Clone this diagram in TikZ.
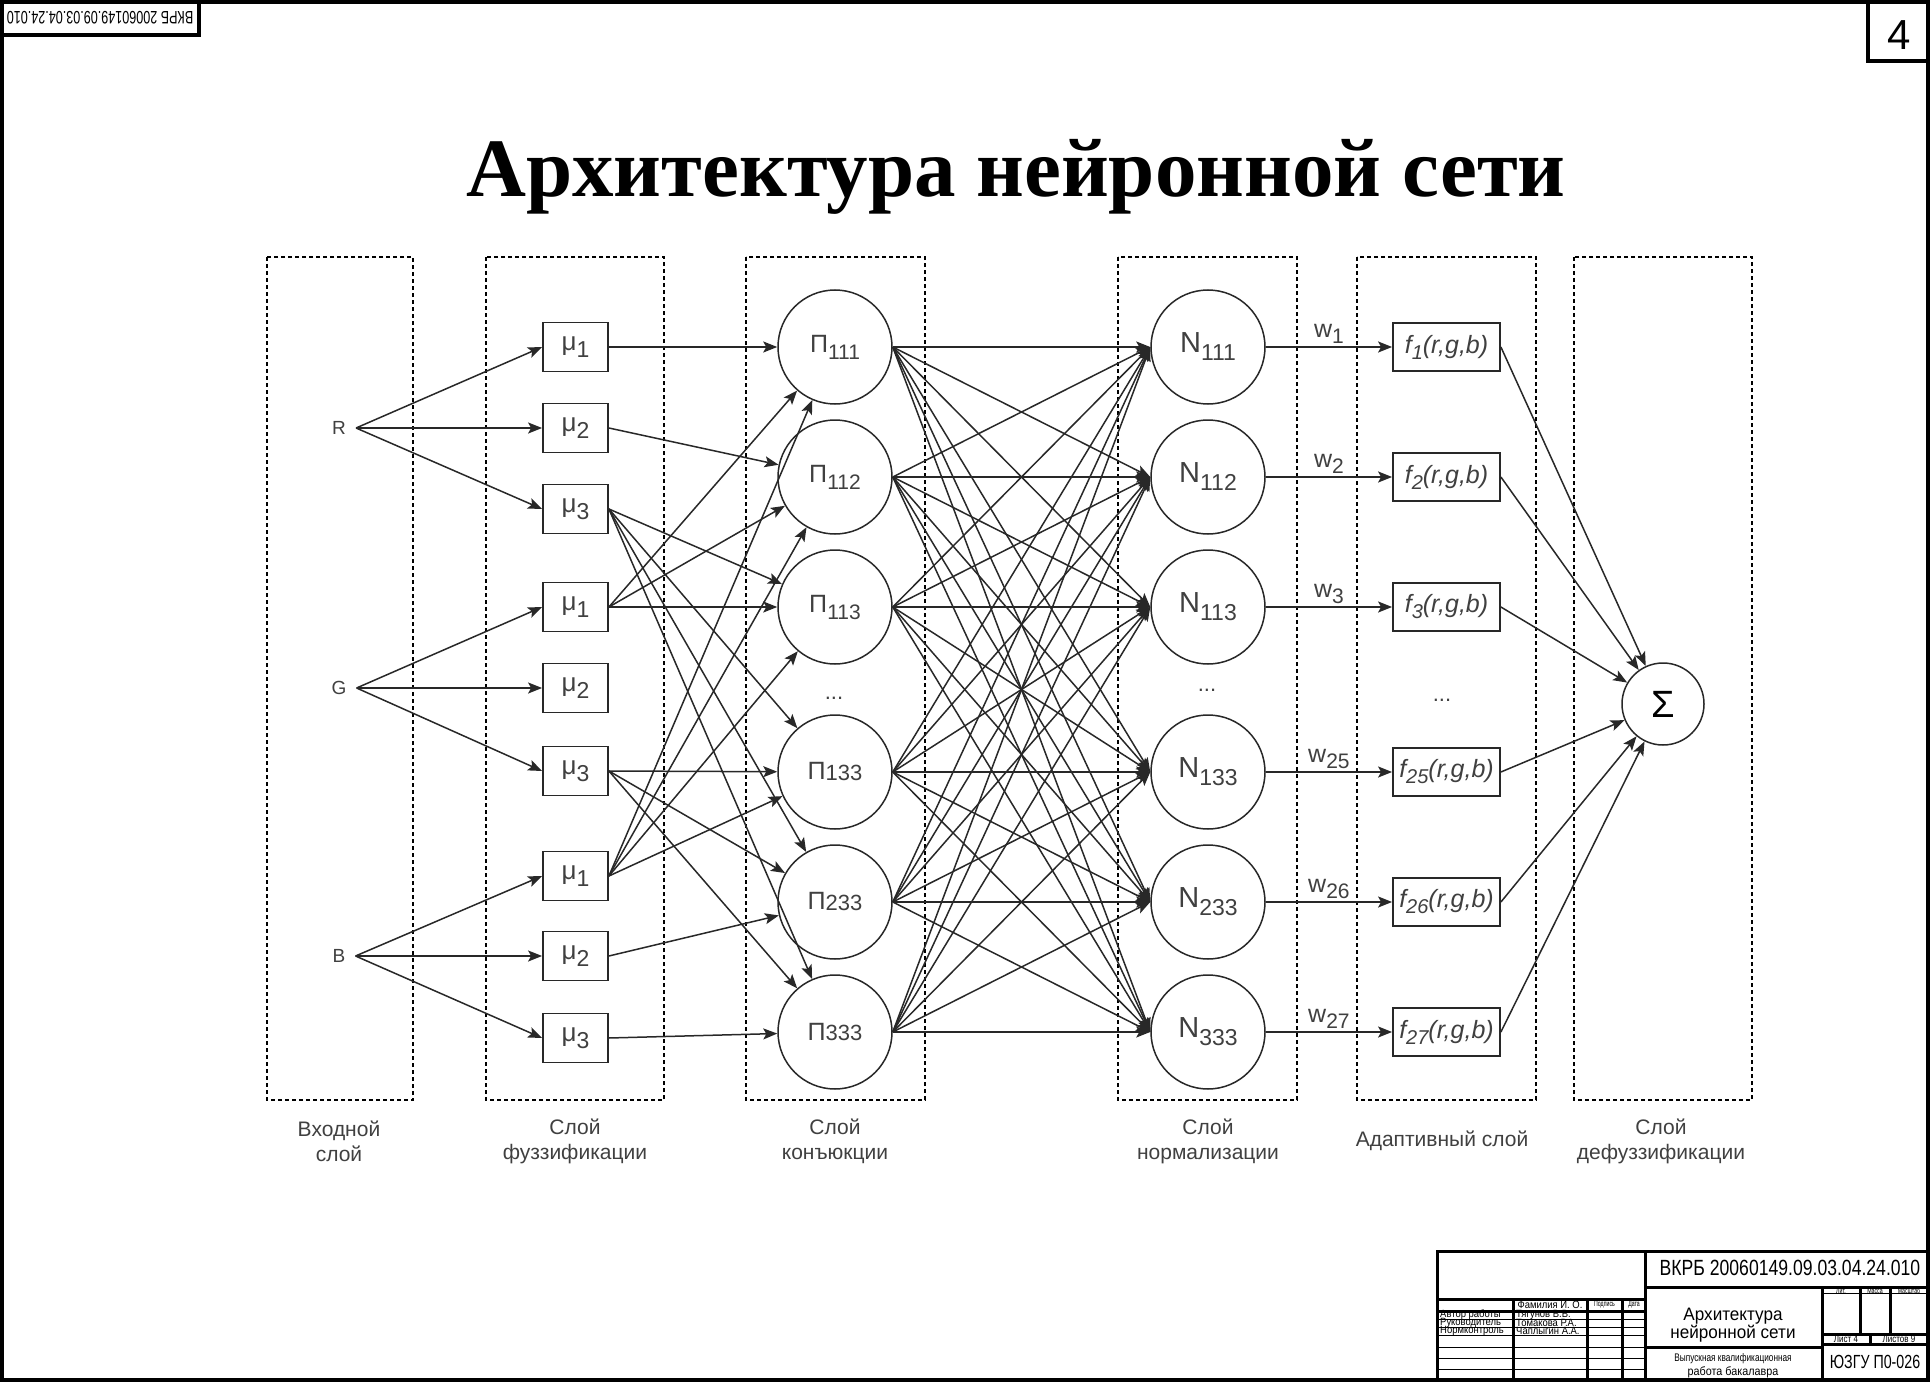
\documentclass[tikz,border=0pt]{standalone}
\usepackage{fontspec}
\setmainfont{Liberation Sans}
\newfontfamily\serifb{Liberation Serif}
\usetikzlibrary{arrows.meta}
\definecolor{txt}{RGB}{64,64,64}
\definecolor{ln}{RGB}{40,40,40}
\newcommand{\fs}[1]{\fontsize{#1}{#1}\selectfont}
\newcommand{\mulab}[1]{{\fs{26}μ}\raisebox{-7pt}{\fs{23}#1}}
\newcommand{\pilab}[1]{{\fs{25}Π}\raisebox{-7pt}{\fs{21}#1}}
\newcommand{\pilabb}[1]{{\fs{25}Π}\raisebox{-1pt}{\fs{22}#1}}
\newcommand{\nlab}[1]{{\fs{29}N}\raisebox{-8pt}{\fs{23}#1}}
\newcommand{\flab}[1]{{\fs{25}\itshape f}\raisebox{-6pt}{\fs{20}\itshape #1}{\fs{25}\itshape (r,g,b)}}
\newcommand{\wlab}[1]{{\fs{25}w}\raisebox{-6pt}{\fs{21}#1}}
\tikzset{
  conn/.style={draw=ln, line width=1.5pt, -{Stealth[length=14pt,width=11pt,inset=3pt]}},
  mubox/.style={draw=ln, line width=1.8pt, minimum width=65pt, minimum height=49pt, inner sep=0pt, text=txt},
  neuron/.style={draw=ln, circle, line width=1.5pt, minimum size=114pt, inner sep=0pt, text=txt},
  fbox/.style={draw=ln, line width=1.8pt, minimum width=107pt, minimum height=48pt, inner sep=0pt, text=txt},
  layerbox/.style={draw=black, line width=1.3pt, dash pattern=on 4pt off 3pt},
  lbl/.style={text=txt, font=\fontsize{21}{25}\selectfont, align=center},
  inlbl/.style={text=txt, font=\fs{19}, inner xsep=10pt, inner ysep=0pt},
  thick3/.style={line width=3pt},
  thin1/.style={line width=1pt}
}
\begin{document}
\begin{tikzpicture}[x=1pt,y=-1pt]
\useasboundingbox (0,0) rectangle (1931,1383);
\fill[white] (0,0) rectangle (1931,1383);
% frame
\draw[line width=4pt] (2,2) rectangle (1928,1380);
% top-left stamp
\draw[line width=4pt] (0,0) rectangle (199,35);
\node[rotate=180] (stamp) at (100,18) {\scalebox{0.7}[1]{\fs{18}ВКРБ 20060149.09.03.04.24.010}};
% page number
\draw[line width=4pt] (1868,0) rectangle (1928,61);
\node[anchor=base] (pg) at (1899,50) {\fs{42}4};
% title
\node[anchor=base, font=\serifb\bfseries\fontsize{83}{90}\selectfont] (title) at (1016,197) {Архитектура нейронной сети};

% layer boxes
\draw[layerbox] (267,257) rectangle (413,1100);
\draw[layerbox] (486,257) rectangle (664,1100);
\draw[layerbox] (746,257) rectangle (925,1100);
\draw[layerbox] (1118,257) rectangle (1297,1100);
\draw[layerbox] (1357,257) rectangle (1536,1100);
\draw[layerbox] (1574,257) rectangle (1752,1100);

% inputs
\node[inlbl] (R) at (339,428) {R};
\node[inlbl] (G) at (339,688) {G};
\node[inlbl] (B) at (339,956) {B};

% fuzzification
\node[mubox] (r1) at (575.5,347) {\mulab{1}};
\node[mubox] (r2) at (575.5,428) {\mulab{2}};
\node[mubox] (r3) at (575.5,509) {\mulab{3}};
\node[mubox] (g1) at (575.5,607) {\mulab{1}};
\node[mubox] (g2) at (575.5,688) {\mulab{2}};
\node[mubox] (g3) at (575.5,771) {\mulab{3}};
\node[mubox] (b1) at (575.5,876) {\mulab{1}};
\node[mubox] (b2) at (575.5,956) {\mulab{2}};
\node[mubox] (b3) at (575.5,1038) {\mulab{3}};

% conjunction
\node[neuron] (p111) at (835,347) {\pilab{111}};
\node[neuron] (p112) at (835,477) {\pilab{112}};
\node[neuron] (p113) at (835,607) {\pilab{113}};
\node[text=txt, font=\fs{22}] (pdots) at (834,698) {...};
\node[neuron] (p133) at (835,772) {\pilabb{133}};
\node[neuron] (p233) at (835,902) {\pilabb{233}};
\node[neuron] (p333) at (835,1032) {\pilabb{333}};

% normalization
\node[neuron] (n111) at (1208,347) {\nlab{111}};
\node[neuron] (n112) at (1208,477) {\nlab{112}};
\node[neuron] (n113) at (1208,607) {\nlab{113}};
\node[text=txt, font=\fs{22}] (ndots) at (1207,690) {...};
\node[neuron] (n133) at (1208,772) {\nlab{133}};
\node[neuron] (n233) at (1208,902) {\nlab{233}};
\node[neuron] (n333) at (1208,1032) {\nlab{333}};

% adaptive
\node[fbox] (f111) at (1446.5,347) {\flab{1}};
\node[fbox] (f112) at (1446.5,477) {\flab{2}};
\node[fbox] (f113) at (1446.5,607) {\flab{3}};
\node[text=txt, font=\fs{22}] (fdots) at (1442,700) {...};
\node[fbox] (f133) at (1446.5,772) {\flab{25}};
\node[fbox] (f233) at (1446.5,902) {\flab{26}};
\node[fbox] (f333) at (1446.5,1032) {\flab{27}};

% defuzzification
\node[draw=ln, circle, line width=1.5pt, minimum size=82pt, inner sep=0pt] (sig) at (1663,704) {\fs{38}Σ};

% input -> mu
\foreach \s/\t in {R/r1,R/r2,R/r3,G/g1,G/g2,G/g3,B/b1,B/b2,B/b3}
  \draw[conn] (\s.east) -- (\t.west);

% mu -> pi
\foreach \a/\b in {r1/p111, r2/p112, r3/p113, r3/p133, r3/p233, r3/p333,
                   g1/p111, g1/p112, g1/p113, g3/p133, g3/p233, g3/p333,
                   b1/p111, b1/p112, b1/p113, b1/p133, b2/p233, b3/p333}
  \draw[conn] (\a.east) -- (\b);

% pi -> N (full)
\foreach \i in {111,112,113,133,233,333}
  \foreach \j in {111,112,113,133,233,333}
    \draw[conn] (p\i.east) -- (n\j.west);

% N -> f with weights
\foreach \i/\w in {111/1,112/2,113/3,133/25,233/26,333/27}
  \draw[conn] (n\i.east) -- node[above=3pt, text=txt, inner sep=0pt] {\wlab{\w}} (f\i.west);

% f -> sigma
\foreach \i in {111,112,113,133,233,333}
  \draw[conn] (f\i.east) -- (sig);

% layer labels
\node[lbl] (l1) at (339,1141) {Входной\\слой};
\node[lbl] (l2) at (575,1141) {Слой\\фуззификации};
\node[lbl] (l3) at (835,1141) {Слой\\конъюкции};
\node[lbl] (l4) at (1208,1141) {Слой\\нормализации};
\node[lbl] (l5) at (1442,1141) {Адаптивный слой};
\node[lbl] (l6) at (1661,1141) {Слой\\дефуззификации};

% title block
\draw[thick3] (1437,1380) -- (1437,1251) -- (1928,1251);
\draw[thick3] (1645,1251) -- (1645,1380);
\draw[thick3] (1645,1287) -- (1928,1287);
\draw[thick3] (1822,1287) -- (1822,1380);
\draw[thick3] (1645,1347) -- (1822,1347);
\draw[thick3] (1437,1299) -- (1645,1299);
\draw[thick3] (1437,1311) -- (1645,1311);
\draw[thick3] (1513,1299) -- (1513,1380);
\draw[thick3] (1587,1299) -- (1587,1380);
\draw[thick3] (1622,1299) -- (1622,1380);
\foreach \y in {1319,1327,1335,1347,1358,1369}
  \draw[thin1] (1437,\y) -- (1645,\y);
\draw[thin1] (1822,1293) -- (1928,1293);
\draw[thick3] (1860,1287) -- (1860,1334);
\draw[thick3] (1890,1287) -- (1890,1334);
\draw[thick3] (1822,1334) -- (1928,1334);
\draw[thick3] (1822,1344) -- (1928,1344);
\draw[thick3] (1870,1334) -- (1870,1344);

\node (tb1) at (1790,1268) {\scalebox{0.8}[1]{\fs{22}ВКРБ 20060149.09.03.04.24.010}};
\node (tb2) at (1733,1316) {\scalebox{0.95}[1]{\fs{18}Архитектура}};
\node (tb3) at (1733,1334) {\scalebox{0.95}[1]{\fs{18}нейронной сети}};
\node (tb4) at (1733,1359) {\scalebox{0.75}[1]{\fs{11}Выпускная квалификационная}};
\node (tb5) at (1733,1372) {\scalebox{0.9}[1]{\fs{12}работа бакалавра}};
\node (tb6) at (1875,1362) {\scalebox{0.75}[1]{\fs{19}ЮЗГУ П0-026}};
\node (tb7) at (1841,1290.5) {\scalebox{0.7}[1]{\fs{7.5}Лит.}};
\node (tb8) at (1875,1290.5) {\scalebox{0.7}[1]{\fs{7.5}Масса}};
\node (tb9) at (1909,1290.5) {\scalebox{0.7}[1]{\fs{7.5}Масштаб}};
\node (tb10) at (1846,1339.5) {\scalebox{0.8}[1]{\fs{10}Лист 4}};
\node (tb11) at (1899,1339.5) {\scalebox{0.8}[1]{\fs{10}Листов 9}};
\node (tb12) at (1550,1305) {\scalebox{0.9}[1]{\fs{10.5}Фамилия И. О.}};
\node (tb13) at (1604.5,1305) {\scalebox{0.65}[1]{\fs{8}Подпись}};
\node (tb14) at (1634,1305) {\scalebox{0.65}[1]{\fs{8}Дата}};
\node[anchor=west, inner sep=0pt] (tb15) at (1440,1315) {\scalebox{0.9}[1]{\fs{10.5}Автор работы}};
\node[anchor=west, inner sep=0pt] (tb16) at (1440,1323) {\scalebox{0.9}[1]{\fs{10.5}Руководитель}};
\node[anchor=west, inner sep=0pt] (tb17) at (1440,1331) {\scalebox{0.9}[1]{\fs{10.5}Нормконтроль}};
\node[anchor=west, inner sep=0pt] (tb18) at (1516,1315) {\scalebox{0.9}[1]{\fs{10.5}Тягунов В.В.}};
\node[anchor=west, inner sep=0pt] (tb19) at (1516,1323) {\scalebox{0.9}[1]{\fs{10.5}Томакова Р.А.}};
\node[anchor=west, inner sep=0pt] (tb20) at (1516,1331) {\scalebox{0.9}[1]{\fs{10.5}Чаплыгин А.А.}};
\end{tikzpicture}
\end{document}
